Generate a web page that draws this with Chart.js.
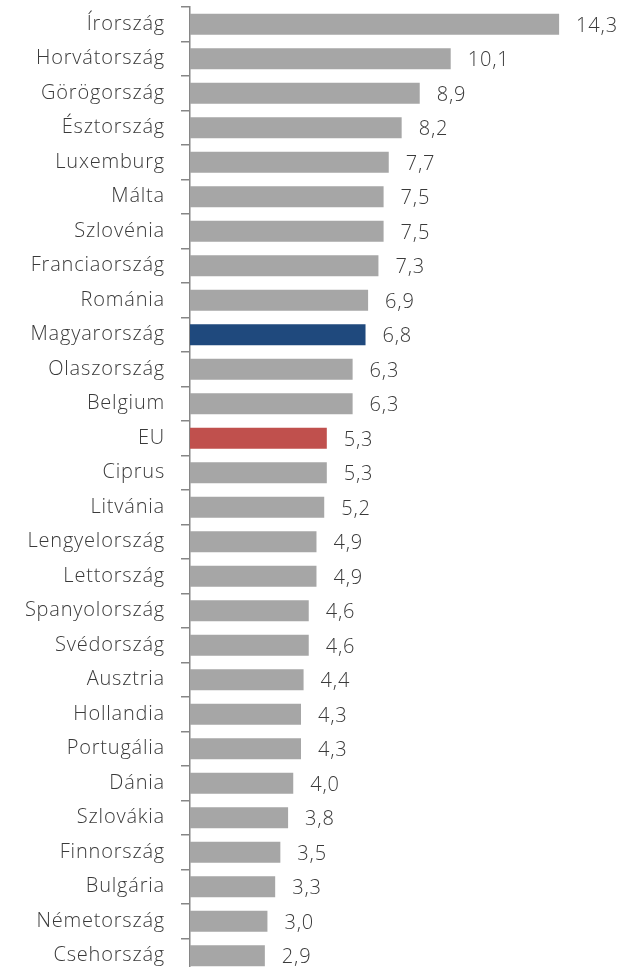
<!DOCTYPE html>
<html>
<head>
<meta charset="utf-8">
<style>
  html, body { margin: 0; padding: 0; background: #fff; overflow: hidden; }
</style>
<script src="https://cdn.jsdelivr.net/npm/chart.js@4/dist/chart.umd.min.js"></script>
</head>
<body>
<canvas id="chartBars" width="620" height="975"></canvas>
<script>
const countries = ['Írország', 'Horvátország', 'Görögország', 'Észtország', 'Luxemburg', 'Málta',
  'Szlovénia', 'Franciaország', 'Románia', 'Magyarország', 'Olaszország', 'Belgium', 'EU',
  'Ciprus', 'Litvánia', 'Lengyelország', 'Lettország', 'Spanyolország', 'Svédország', 'Ausztria',
  'Hollandia', 'Portugália', 'Dánia', 'Szlovákia', 'Finnország', 'Bulgária', 'Németország', 'Csehország']
const values = [14.3, 10.1, 8.9, 8.2, 7.7, 7.5, 7.5, 7.3, 6.9, 6.8, 6.3, 6.3, 5.3,
  5.3, 5.2, 4.9, 4.9, 4.6, 4.6, 4.4, 4.3, 4.3, 4.0, 3.8, 3.5, 3.3, 3.0, 2.9]

const barColors = countries.map(c => c === 'Magyarország' ? '#1F497D' : (c === 'EU' ? '#C0504D' : '#A6A6A6'))
const fontFamily = '"Open Sans", "Noto Sans", sans-serif'
const textColor = '#3a3a3a'

// a bit of extra spacing, the original font runs wider
const spacing = {
  id: 'spacing',
  beforeDraw (chart) {
    chart.ctx.letterSpacing = '0.8px'
  }
}

// value labels next to each bar, decimal comma
const valueLabels = {
  id: 'valueLabels',
  afterDatasetsDraw (chart) {
    const ctx = chart.ctx
    const meta = chart.getDatasetMeta(0)
    ctx.save()
    ctx.letterSpacing = '0.8px'
    ctx.font = '300 20px ' + fontFamily
    ctx.fillStyle = textColor
    ctx.textAlign = 'left'
    ctx.textBaseline = 'middle'
    meta.data.forEach((bar, i) => {
      ctx.fillText(values[i].toFixed(1).replace('.', ','), bar.x + 17, bar.y + 2)
    })
    ctx.restore()
  }
}

const ctx = document.getElementById('chartBars').getContext('2d')
new Chart(ctx, {
  type: 'bar',
  data: {
    labels: countries,
    datasets: [{
      data: values,
      backgroundColor: barColors,
      borderWidth: 0,
      categoryPercentage: 1,
      barPercentage: 0.61
    }]
  },
  options: {
    indexAxis: 'y',
    responsive: false,
    animation: false,
    devicePixelRatio: 1,
    layout: { padding: { top: 7, bottom: 2, right: 17 } },
    plugins: {
      legend: { display: false },
      tooltip: { enabled: false }
    },
    scales: {
      x: { display: false, min: 0, max: 16 },
      y: {
        afterFit: (scale) => {
          scale.width = 190
          scale.paddingTop = 0
          scale.paddingBottom = 0
        },
        border: { color: '#868686', width: 1.5 },
        grid: { offset: true, drawOnChartArea: false, tickLength: 9, color: '#868686', lineWidth: 1.5 },
        ticks: { color: textColor, font: { family: fontFamily, size: 20, weight: 300 }, padding: 16 }
      }
    }
  },
  plugins: [spacing, valueLabels]
})
</script>
</body>
</html>
